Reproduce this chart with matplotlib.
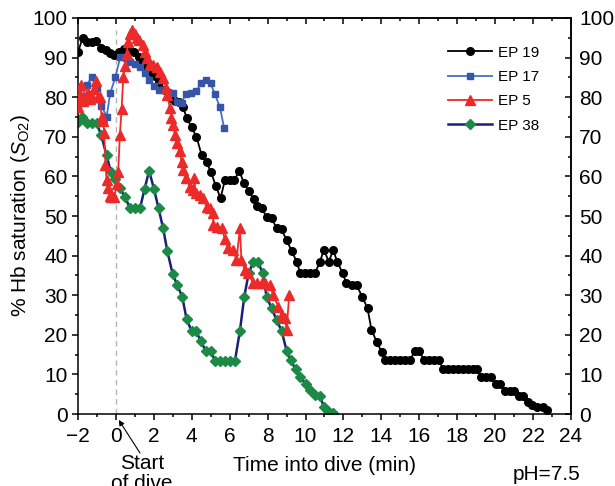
import matplotlib
matplotlib.use("Agg")
import matplotlib.pyplot as plt
from matplotlib.lines import Line2D
from matplotlib.ticker import MultipleLocator

plt.rcParams['font.family'] = ['Liberation Sans', 'DejaVu Sans']
plt.rcParams['mathtext.fontset'] = 'custom'
plt.rcParams['mathtext.rm'] = 'Liberation Sans'
plt.rcParams['mathtext.it'] = 'Liberation Sans:italic'

# -------------------------------
# Hb saturation traces (time in min, SO2 in %)
# -------------------------------
ep19_t = [-1.99, -1.76, -1.55, -1.28, -1.05, -0.76, -0.53, -0.32, -0.11, 0.18,
          0.44, 0.70, 0.95, 1.23, 1.44, 1.63, 1.83, 2.06, 2.29, 2.58,
          2.88, 3.11, 3.34, 3.55, 3.73, 3.99, 4.25, 4.52, 4.78, 5.02,
          5.27, 5.52, 5.75, 6.00, 6.25, 6.50, 6.76, 7.02, 7.26, 7.45,
          7.68, 7.95, 8.21, 8.48, 8.74, 9.00, 9.27, 9.53, 9.73, 9.97,
          10.23, 10.50, 10.76, 10.97, 11.23, 11.46, 11.67, 11.96, 12.16, 12.43,
          12.69, 12.99, 13.27, 13.48, 13.75, 14.01, 14.19, 14.45, 14.72, 14.98,
          15.25, 15.51, 15.77, 16.00, 16.24, 16.50, 16.77, 17.03, 17.26, 17.53,
          17.79, 18.05, 18.32, 18.58, 18.85, 19.06, 19.25, 19.51, 19.76, 20.02,
          20.25, 20.52, 20.78, 20.99, 21.27, 21.48, 21.75, 21.97, 22.22, 22.50,
          22.75]
ep19_s = [91.5, 94.9, 94.0, 94.0, 94.3, 92.3, 91.9, 91.2, 90.6, 91.5,
          92.1, 91.9, 91.3, 90.2, 89.0, 87.7, 86.4, 85.4, 83.9, 81.8,
          79.7, 79.0, 78.9, 77.4, 74.8, 72.4, 70.0, 65.4, 63.6, 61.0,
          57.6, 54.5, 59.1, 59.1, 59.1, 61.4, 58.3, 56.2, 54.2, 52.4,
          51.9, 49.8, 49.4, 46.9, 46.6, 43.9, 41.2, 38.5, 35.5, 35.5,
          35.5, 35.5, 38.5, 41.4, 38.5, 41.4, 38.5, 35.5, 33.0, 32.6,
          32.6, 29.6, 26.7, 21.2, 18.3, 15.7, 13.6, 13.6, 13.6, 13.6,
          13.6, 13.6, 16.0, 16.0, 13.6, 13.6, 13.6, 13.6, 11.3, 11.3,
          11.3, 11.3, 11.3, 11.3, 11.3, 11.3, 9.4, 9.4, 9.4, 7.6,
          7.6, 5.9, 5.9, 5.9, 4.5, 4.5, 3.1, 2.3, 1.7, 1.7,
          1.0]

ep17_t = [-2.00, -1.80, -1.55, -1.28, -1.02, -0.76, -0.49, -0.30, -0.03, 0.23,
          0.53, 0.74, 1.00, 1.27, 1.53, 1.76, 2.00, 2.27, 2.53, 2.76,
          3.02, 3.23, 3.46, 3.69, 3.96, 4.25, 4.48, 4.73, 4.99, 5.22,
          5.49, 5.71]
ep17_s = [77.0, 80.0, 83.0, 85.0, 82.2, 77.8, 75.1, 81.0, 85.0, 90.2,
          89.8, 89.0, 88.4, 87.5, 86.0, 84.3, 82.8, 81.8, 81.8, 81.4,
          81.0, 78.9, 78.6, 80.8, 81.0, 81.6, 83.5, 84.3, 83.5, 80.8,
          77.4, 72.1]

ep5_t = [-2.00, -1.92, -1.85, -1.76, -1.65, -1.55, -1.45, -1.35, -1.25, -1.15,
         -1.05, -0.95, -0.85, -0.75, -0.67, -0.62, -0.55, -0.49, -0.40, -0.32,
         -0.26, -0.09, 0.05, 0.12, 0.21, 0.30, 0.39, 0.48, 0.56, 0.65,
         0.74, 0.86, 1.00, 1.09, 1.23, 1.41, 1.53, 1.65, 1.79, 1.97,
         2.15, 2.32, 2.50, 2.64, 2.71, 2.85, 2.93, 3.02, 3.11, 3.20,
         3.38, 3.46, 3.55, 3.69, 3.90, 4.08, 4.14, 4.20, 4.43, 4.60,
         4.78, 4.96, 5.13, 5.13, 5.31, 5.57, 5.75, 5.92, 6.19, 6.36,
         6.54, 6.62, 6.80, 6.98, 7.24, 7.45, 7.68, 7.86, 8.12, 8.30,
         8.56, 8.74, 8.91, 9.00, 9.14]
ep5_s = [77.5, 80.0, 83.0, 79.0, 80.0, 79.5, 81.0, 79.5, 80.0, 82.0,
         84.0, 80.0, 80.0, 75.0, 74.0, 71.0, 63.0, 59.0, 57.0, 55.0,
         54.7, 54.7, 58.0, 61.2, 70.5, 77.0, 85.0, 88.0, 91.0, 94.0,
         96.0, 97.0, 96.0, 95.0, 94.4, 93.2, 91.5, 89.8, 88.5, 88.1,
         87.7, 86.4, 84.8, 82.2, 80.6, 77.2, 74.7, 73.0, 70.5, 68.4,
         66.3, 63.7, 61.6, 59.5, 57.4, 56.5, 59.5, 55.7, 55.3, 54.5,
         52.3, 51.9, 50.7, 47.7, 47.3, 46.9, 44.3, 41.8, 41.4, 38.9,
         46.9, 38.9, 36.4, 35.5, 33.0, 33.0, 33.0, 33.0, 32.6, 30.0,
         27.1, 25.0, 24.2, 21.2, 30.0]

ep38_t = [-1.99, -1.78, -1.55, -1.28, -1.02, -0.78, -0.49, -0.27, -0.03, 0.21,
          0.50, 0.74, 1.00, 1.27, 1.51, 1.75, 2.01, 2.25, 2.49, 2.71,
          2.99, 3.23, 3.50, 3.73, 3.99, 4.22, 4.48, 4.73, 4.99, 5.22,
          5.48, 5.75, 6.01, 6.28, 6.54, 6.77, 7.00, 7.24, 7.50, 7.74,
          7.95, 8.21, 8.48, 8.74, 9.00, 9.21, 9.49, 9.70, 10.02, 10.23,
          10.50, 10.76, 10.97, 11.20, 11.46]
ep38_s = [73.8, 75.0, 73.4, 73.4, 73.4, 70.5, 65.3, 61.2, 59.3, 57.0,
          54.7, 51.9, 51.9, 51.9, 56.8, 61.4, 56.8, 51.9, 46.9, 41.2,
          35.4, 32.6, 29.6, 23.9, 21.0, 21.0, 18.4, 16.0, 16.0, 13.5,
          13.5, 13.5, 13.5, 13.5, 21.0, 29.6, 35.5, 38.4, 38.4, 35.5,
          29.6, 26.7, 23.7, 21.0, 16.0, 13.6, 11.3, 9.4, 7.6, 6.1,
          4.8, 4.5, 1.8, 0.8, 0.3]

fig = plt.figure(figsize=(6.15, 4.86), dpi=100)
ax = fig.add_axes([0.1268, 0.1481, 0.8016, 0.8149])

# start-of-dive marker
ax.axvline(0, ymin=0, ymax=0.97, color='#b4b4b4', lw=1.0, dashes=(4, 3), zorder=1)

ax.plot(ep38_t, ep38_s, color='#1c1f78', lw=1.8, marker='D', ms=4.8,
        mfc='#1b8a45', mec='#1b8a45', zorder=2)
ax.plot(ep19_t, ep19_s, color='black', lw=1.3, marker='o', ms=5.5,
        mfc='black', mec='black', zorder=3)
ax.plot(ep17_t, ep17_s, color='#4a6ec4', lw=1.3, marker='s', ms=4.6,
        mfc='#3556a8', mec='#3556a8', zorder=4)
ax.plot(ep5_t, ep5_s, color='#ec2a2a', lw=1.3, marker='^', ms=6.5,
        mfc='#ec2a2a', mec='#ec2a2a', zorder=5)

ax.set_xlim(-2, 24)
ax.set_ylim(0, 100)
ax.xaxis.set_major_locator(MultipleLocator(2))
ax.xaxis.set_minor_locator(MultipleLocator(1))
ax.yaxis.set_major_locator(MultipleLocator(10))
ax.yaxis.set_minor_locator(MultipleLocator(5))

for sp in ax.spines.values():
    sp.set_linewidth(1.1)
ax.tick_params(which='both', direction='out', width=1.1, labelsize=15,
               top=False, right=False)
ax.tick_params(which='major', length=4)
ax.tick_params(which='minor', length=2.5)
ax.tick_params(axis='x', pad=5.5)

# right and top axes have inward ticks
ax_r = ax.secondary_yaxis('right')
ax_r.yaxis.set_major_locator(MultipleLocator(10))
ax_r.yaxis.set_minor_locator(MultipleLocator(5))
ax_r.tick_params(which='both', direction='in', width=1.1, labelsize=15, pad=6)
ax_r.tick_params(which='major', length=4)
ax_r.tick_params(which='minor', length=2.5)
ax_r.spines['right'].set_linewidth(1.1)

ax_t = ax.secondary_xaxis('top')
ax_t.xaxis.set_major_locator(MultipleLocator(2))
ax_t.xaxis.set_minor_locator(MultipleLocator(1))
ax_t.tick_params(which='both', direction='in', width=1.1, labeltop=False)
ax_t.tick_params(which='major', length=4)
ax_t.tick_params(which='minor', length=2.5)
ax_t.spines['top'].set_linewidth(1.1)

ax.set_xlabel('Time into dive (min)', fontsize=15, labelpad=7)
ax.set_ylabel(r'% Hb saturation ($S_{\mathrm{O2}}$)', fontsize=15, labelpad=0)

handles = [
    Line2D([], [], color='black', lw=1.3, marker='o', ms=5.5),
    Line2D([], [], color='#4a6ec4', lw=1.3, marker='s', ms=4.6,
           mfc='#3556a8', mec='#3556a8'),
    Line2D([], [], color='#ec2a2a', lw=1.3, marker='^', ms=6.5),
    Line2D([], [], color='#1c1f78', lw=1.8, marker='D', ms=4.8,
           mfc='#1b8a45', mec='#1b8a45'),
]
fig.legend(handles, ['EP 19', 'EP 17', 'EP 5', 'EP 38'], loc='upper left',
           bbox_to_anchor=(0.716, 0.922), frameon=False, fontsize=11,
           handlelength=2.9, handletextpad=0.35, labelspacing=0.68,
           borderpad=0)

ax.annotate('', xy=(0.15, -1.5), xycoords='data',
            xytext=(140, 33), textcoords='figure pixels',
            arrowprops=dict(arrowstyle='-|>', color='black', lw=0.8,
                            mutation_scale=8, shrinkA=0, shrinkB=0),
            annotation_clip=False)
fig.text(0.231, 0.066, 'Start\nof dive', ha='center', va='top', fontsize=15,
         linespacing=1.05)
fig.text(0.943, 0.012, 'pH=7.5', ha='right', va='baseline', fontsize=15)

fig.savefig('out.png', dpi=100)
